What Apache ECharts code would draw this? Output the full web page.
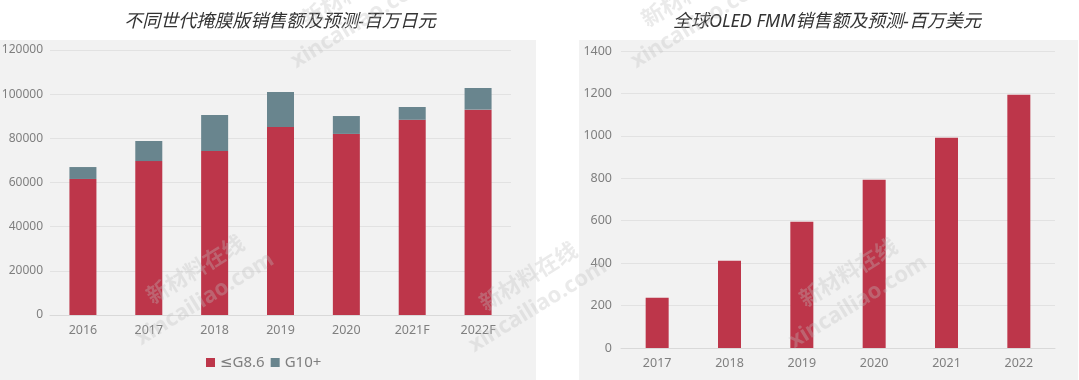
<!DOCTYPE html>
<html><head><meta charset="utf-8">
<script src="https://cdn.jsdelivr.net/npm/echarts@6/dist/echarts.min.js"></script>
<style>html,body{margin:0;padding:0;background:#fff}#c{width:1079px;height:380px}</style>
</head><body><div id="c"></div>
<script>
var leftTitle = '不同世代掩膜版销售额及预测-百万日元';
var rightTitle = '全球OLED FMM销售额及预测-百万美元';
var leftCategories = ['2016','2017','2018','2019','2020','2021F','2022F'];
var seriesG86Name = '≤G8.6';
var seriesG10Name = 'G10+';
var seriesG86 = [61600, 69700, 74300, 85100, 82000, 88400, 93000];
var seriesG10 = [5400, 9100, 16300, 15900, 8100, 5800, 9800];
var rightCategories = ['2017','2018','2019','2020','2021','2022'];
var fmmSales = [237, 411, 595, 793, 991, 1194];
var leftTicks = {min: 0, max: 120000, interval: 20000};
var rightTicks = {min: 0, max: 1400, interval: 200};

var RED = '#bd364a', TEAL = '#69858e', LBL = '#7f7f7f';
var FONT = '"Noto Sans","DejaVu Sans","Noto Sans CJK SC",sans-serif';

function wm(cx, cy) {
  return [
    {type:'text', x: cx, y: cy - 16, rotation: 0.55, z: 100, silent: true,
     style:{text:'新材料在线', fill:'rgba(190,190,190,0.33)', font:'bold 22px "Noto Sans CJK SC"', align:'center', verticalAlign:'middle'}},
    {type:'text', x: cx + 10, y: cy + 14, rotation: 0.55, z: 100, silent: true,
     style:{text:'xincailiao.com', fill:'rgba(190,190,190,0.33)', font:'bold 22px "Noto Sans"', align:'center', verticalAlign:'middle'}}
  ];
}

var chart = echarts.init(document.getElementById('c'), null, {renderer:'canvas'});
var graphics = [
  {type:'rect', shape:{x:0, y:40, width:536, height:340}, style:{fill:'#f2f2f2'}, z:-10, silent:true},
  {type:'rect', shape:{x:579, y:40, width:499, height:340}, style:{fill:'#f2f2f2'}, z:-10, silent:true}
].concat(wm(195, 285), wm(528, 292), wm(848, 288), wm(350, 8), wm(690, 8));

function plain(v) { return String(v); }

chart.setOption({
  animation: false,
  textStyle: {fontFamily: FONT},
  graphic: graphics,
  title: [
    {text: leftTitle, left: 275, top: 8, textAlign: 'center',
     textStyle: {fontSize: 18, fontStyle: 'italic', fontWeight: 'normal', color: '#333', fontFamily: FONT}},
    {text: rightTitle, left: 822, top: 8, textAlign: 'center',
     textStyle: {fontSize: 18, fontStyle: 'italic', fontWeight: 'normal', color: '#333', fontFamily: FONT}}
  ],
  legend: {
    data: [seriesG86Name, seriesG10Name], left: 201, top: 350,
    itemWidth: 9, itemHeight: 9, itemGap: 6, icon: 'rect',
    textStyle: {fontSize: 15, color: LBL, fontFamily: FONT}
  },
  grid: [
    {left: 50, right: 568, top: 50, bottom: 65, containLabel: false, outerBoundsMode: 'none'},
    {left: 621, right: 24, top: 51, bottom: 32, containLabel: false, outerBoundsMode: 'none'}
  ],
  xAxis: [
    {type:'category', gridIndex:0, data:leftCategories,
     axisLine:{lineStyle:{color:'#d9d9d9'}}, axisTick:{show:false},
     axisLabel:{color:LBL, fontSize:12.5, margin:9}},
    {type:'category', gridIndex:1, data:rightCategories,
     axisLine:{lineStyle:{color:'#d9d9d9'}}, axisTick:{show:false},
     axisLabel:{color:LBL, fontSize:12.5, margin:9}}
  ],
  yAxis: [
    {type:'value', gridIndex:0, min:leftTicks.min, max:leftTicks.max, interval:leftTicks.interval,
     axisLine:{show:false}, axisTick:{show:false},
     axisLabel:{color:LBL, fontSize:12, margin:7, formatter: plain},
     splitLine:{lineStyle:{color:'#e2e2e2'}}},
    {type:'value', gridIndex:1, min:rightTicks.min, max:rightTicks.max, interval:rightTicks.interval,
     axisLine:{show:false}, axisTick:{show:false},
     axisLabel:{color:LBL, fontSize:12.5, margin:9, formatter: plain},
     splitLine:{lineStyle:{color:'#e2e2e2'}}}
  ],
  series: [
    {name: seriesG86Name, type:'bar', stack:'a', xAxisIndex:0, yAxisIndex:0, data: seriesG86,
     barWidth: 27, itemStyle:{color: RED}},
    {name: seriesG10Name, type:'bar', stack:'a', xAxisIndex:0, yAxisIndex:0, data: seriesG10,
     barWidth: 27, itemStyle:{color: TEAL}},
    {name: 'FMM', type:'bar', xAxisIndex:1, yAxisIndex:1, data: fmmSales,
     barWidth: 23, itemStyle:{color: RED}}
  ]
});
</script></body></html>
